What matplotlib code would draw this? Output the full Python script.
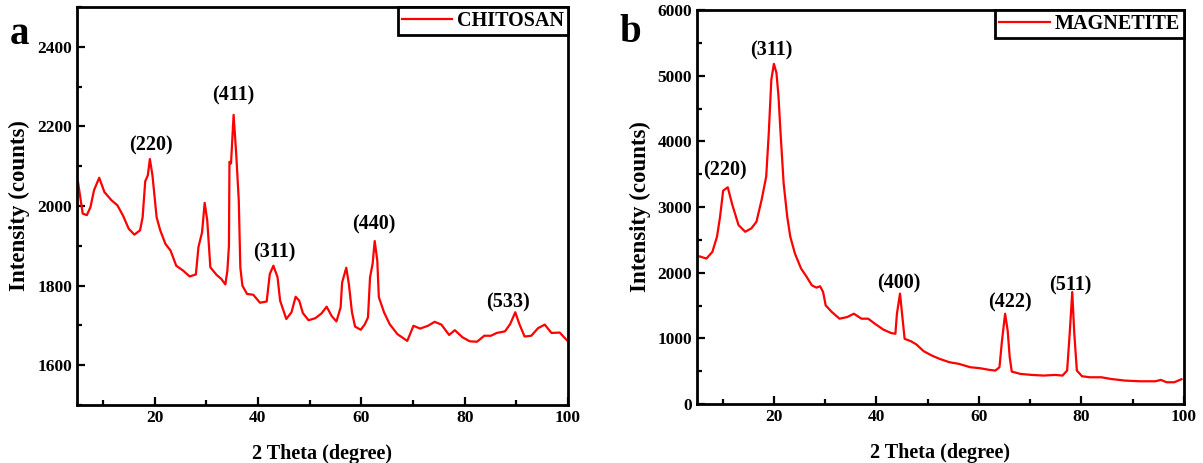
import matplotlib
matplotlib.use("Agg")
import matplotlib.pyplot as plt
from matplotlib.ticker import MultipleLocator

plt.rcParams['font.family'] = ['Liberation Serif', 'DejaVu Serif']
plt.rcParams['font.weight'] = 'bold'

# chitosan XRD pattern
chi_theta = [5.2, 6.1, 6.9, 7.6, 8.3, 9.3, 10.3, 11.7, 12.8, 13.9, 15.0, 16.1, 17.2, 17.7,
             18.2, 18.7, 19.1, 19.6, 20.4, 21.1, 22.1, 23.1, 24.2, 25.5, 26.8, 28.0, 28.5,
             29.2, 29.7, 30.2, 30.8, 32.0, 32.9, 33.7, 34.1, 34.4, 34.5, 34.8, 35.3, 35.8,
             36.3, 36.6, 37.0, 37.9, 39.1, 40.4, 41.7, 42.3, 43.0, 43.8, 44.3, 45.5, 46.5,
             47.3, 48.0, 48.7, 49.8, 51.1, 52.3, 53.3, 54.3, 55.2, 56.0, 56.3, 57.1, 57.6,
             58.2, 58.8, 59.9, 60.7, 61.3, 61.7, 62.2, 62.6, 63.1, 63.4, 64.4, 65.5, 67.0,
             68.9, 70.1, 71.4, 72.9, 74.2, 75.5, 77.0, 78.1, 79.6, 81.0, 82.4, 83.8, 85.1,
             86.2, 87.8, 88.8, 89.8, 90.6, 91.6, 92.9, 94.2, 95.5, 96.8, 98.4, 99.9]
chi_counts = [2060, 1981, 1977, 1997, 2040, 2071, 2035, 2014, 2002, 1976, 1943, 1928, 1939, 1972,
              2062, 2077, 2118, 2077, 1972, 1939, 1905, 1888, 1850, 1838, 1823, 1828, 1897,
              1934, 2008, 1964, 1846, 1827, 1817, 1803, 1838, 1901, 2111, 2107, 2229, 2132,
              2014, 1846, 1800, 1779, 1777, 1757, 1760, 1829, 1850, 1821, 1762, 1716, 1733,
              1772, 1762, 1731, 1713, 1718, 1730, 1747, 1723, 1710, 1745, 1808, 1845, 1804,
              1733, 1697, 1689, 1703, 1720, 1821, 1855, 1912, 1863, 1771, 1733, 1703, 1678,
              1661, 1699, 1692, 1699, 1709, 1702, 1676, 1688, 1670, 1660, 1659, 1674, 1674,
              1681, 1685, 1703, 1733, 1703, 1672, 1674, 1693, 1702, 1681, 1682, 1661]
chi_peaks = ['(220)', '(411)', '(311)', '(440)', '(533)']
chi_peak_x = [19.3, 35.3, 43.2, 62.5, 88.4]
chi_peak_y = [2151, 2277, 1882, 1954, 1758]

# magnetite XRD pattern
mag_theta = [5.35, 6.85, 8.0, 8.9, 9.5, 10.1, 11.0, 11.9, 13.1, 14.4, 15.6, 16.6, 17.6, 18.5,
             19.0, 19.5, 20.0, 20.5, 20.9, 21.3, 21.9, 22.6, 23.2, 24.1, 25.3, 26.4, 27.4,
             28.3, 29.0, 29.6, 30.1, 31.3, 32.8, 34.3, 35.6, 37.1, 38.4, 39.7, 41.4, 42.9,
             43.7, 44.0, 44.6, 45.0, 45.5, 46.7, 47.8, 49.2, 50.8, 52.3, 54.2, 56.1, 58.3,
             60.2, 62.1, 63.2, 64.0, 64.5, 65.1, 65.6, 66.0, 66.4, 68.1, 70.3, 72.6, 74.8,
             76.3, 77.2, 77.7, 78.2, 78.6, 79.1, 80.1, 81.6, 83.9, 84.6, 85.7, 88.4, 91.4,
             94.4, 95.5, 96.6, 98.1, 99.5]
mag_counts = [2251, 2215, 2317, 2547, 2852, 3249, 3300, 3030, 2725, 2623, 2674, 2776, 3107, 3463,
              4125, 4940, 5180, 5042, 4686, 4125, 3361, 2852, 2547, 2292, 2063, 1935, 1808,
              1772, 1793, 1706, 1502, 1401, 1299, 1324, 1375, 1299, 1299, 1222, 1131, 1080,
              1070, 1375, 1681, 1375, 993, 957, 907, 805, 738, 688, 637, 611, 560,
              545, 519, 509, 560, 968, 1375, 1120, 713, 494, 458, 443, 433, 443,
              433, 509, 1070, 1706, 1070, 509, 423, 407, 407, 397, 382, 357, 346,
              346, 367, 331, 331, 377]
mag_peaks = ['(220)', '(311)', '(400)', '(422)', '(511)']
mag_peak_x = [10.5, 19.5, 44.4, 66.0, 77.9]
mag_peak_y = [3555, 5388, 1833, 1553, 1808]

fig = plt.figure(figsize=(12.03, 4.63), dpi=100)
ax1 = fig.add_axes([77 / 1203, 1 - 405 / 463, 491 / 1203, 398 / 463])
ax2 = fig.add_axes([697 / 1203, 1 - 404 / 463, 487 / 1203, 394 / 463])


def style_axes(ax, name, theta, counts, peaks, px, py):
    ax.plot(theta, counts, color='#ff0000', lw=1.6, label=name)
    for lab, x, y in zip(peaks, px, py):
        ax.text(x, y, lab, ha='center', va='center', fontsize=14.5, fontweight='bold')
    ax.set_xlim(5, 100)
    ax.xaxis.set_major_locator(MultipleLocator(20))
    ax.xaxis.set_minor_locator(MultipleLocator(10))
    ax.tick_params(which='both', direction='in', top=False, right=False,
                   labelsize=12.5, width=1.6)
    ax.tick_params(which='major', length=6)
    ax.tick_params(which='minor', length=3.5)
    for s in ax.spines.values():
        s.set_linewidth(2)
    ax.set_xlabel('2 Theta (degree)', fontsize=14.5, fontweight='bold', labelpad=13)
    ax.set_ylabel('Intensity (counts)', fontsize=16.5, fontweight='bold')
    leg = ax.legend(loc='upper right', borderaxespad=0, fancybox=False,
                    prop={'size': 14.5, 'weight': 'bold'}, handlelength=2.5,
                    handletextpad=0.25, borderpad=0.2)
    leg.get_frame().set_edgecolor('black')
    leg.get_frame().set_linewidth(2)
    leg.get_frame().set_alpha(1)


style_axes(ax1, 'CHITOSAN', chi_theta, chi_counts, chi_peaks, chi_peak_x, chi_peak_y)
ax1.set_ylim(1500, 2500)
ax1.set_yticks([1600, 1800, 2000, 2200, 2400])
ax1.yaxis.set_minor_locator(MultipleLocator(100))
ax1.yaxis.labelpad = 5

style_axes(ax2, 'MAGNETITE', mag_theta, mag_counts, mag_peaks, mag_peak_x, mag_peak_y)
ax2.set_ylim(0, 6000)
ax2.yaxis.set_major_locator(MultipleLocator(1000))
ax2.yaxis.set_minor_locator(MultipleLocator(500))
ax2.yaxis.labelpad = 5

fig.text(10 / 1203, 1 - 34 / 463, 'a', fontsize=28, fontweight='bold', va='center')
fig.text(619 / 1203, 1 - 33 / 463, 'b', fontsize=28, fontweight='bold', va='center')

fig.savefig('out.png', dpi=100)
